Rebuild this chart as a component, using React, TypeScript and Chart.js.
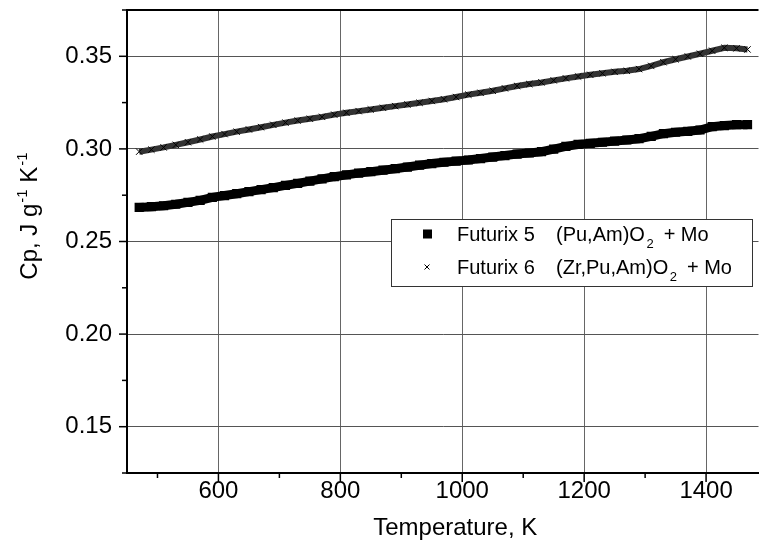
import React, { useEffect, useRef } from "react";
import { Chart, registerables } from "chart.js";

Chart.register(...registerables);

// ---- data ----
const temperatures = [
  470, 490, 510, 530, 550, 570, 590, 610, 630, 650, 670, 690, 710, 730, 750, 770, 790,
  810, 830, 850, 870, 890, 910, 930, 950, 970, 990, 1010, 1030, 1050, 1070, 1090, 1110,
  1130, 1150, 1170, 1190, 1210, 1230, 1250, 1270, 1290, 1310, 1330, 1350, 1370, 1390,
  1410, 1430, 1450, 1468,
];
const futurix5 = [
  0.2684, 0.2688, 0.2693, 0.2701, 0.2711, 0.2722, 0.2738, 0.2748, 0.2758, 0.2769, 0.278,
  0.2791, 0.2803, 0.2814, 0.2826, 0.2838, 0.285, 0.286, 0.2869, 0.2877, 0.2885, 0.2893,
  0.2902, 0.2912, 0.2921, 0.2928, 0.2934, 0.294, 0.2948, 0.2956, 0.2964, 0.2972, 0.2978,
  0.2985, 0.2999, 0.3014, 0.3024, 0.303, 0.3036, 0.3042, 0.3048, 0.3055, 0.3068, 0.3082,
  0.309, 0.3095, 0.3102, 0.312, 0.3126, 0.3131, 0.3131,
];
const futurix6 = [
  0.2985, 0.2996, 0.3008, 0.3022, 0.3036, 0.3051, 0.3067, 0.308, 0.3093, 0.3105, 0.3117,
  0.313, 0.3142, 0.3153, 0.3163, 0.3173, 0.3185, 0.3195, 0.3204, 0.3213, 0.3222, 0.3231,
  0.324, 0.3249, 0.3259, 0.3268, 0.328, 0.3293, 0.3303, 0.3314, 0.3327, 0.334, 0.335,
  0.3359, 0.337, 0.3381, 0.3391, 0.34, 0.3408, 0.3416, 0.3422, 0.3431, 0.3448, 0.3468,
  0.3484, 0.3499, 0.3514, 0.353, 0.3546, 0.3543, 0.3537,
];
const xLabelTicks = [600, 800, 1000, 1200, 1400];
const xMinorTicks = [500, 700, 900, 1100, 1300];
const yLabelTicks = [0.15, 0.2, 0.25, 0.3, 0.35];
const yMinorTicks = [0.125, 0.175, 0.225, 0.275, 0.325, 0.375];
const legendNames = ["Futurix 5", "Futurix 6"];
const legendFormulas = ["(Pu,Am)O", "(Zr,Pu,Am)O"];
const legendSub = "2";
const legendSuffix = "+ Mo";
const xTitle = "Temperature, K";
const yTitleParts: [string, boolean][] = [
  ["Cp, J g", false],
  ["-1", true],
  [" K", false],
  ["-1", true],
];

const X_MIN = 450;
const X_MAX = 1486;
const Y_MIN = 0.125;
const Y_MAX = 0.375;

const FONT = '"Liberation Sans", Arial, Helvetica, sans-serif';

const isIn = (arr: number[], v: number) => arr.some((a) => Math.abs(a - v) < 1e-6);

const decorPlugin = {
  id: "decor",
  afterDraw(chart: any) {
    const ctx: CanvasRenderingContext2D = chart.ctx;
    const xs = chart.scales.x;
    const ys = chart.scales.y;
    const { left, right, top, bottom } = chart.chartArea;
    ctx.save();
    ctx.strokeStyle = "#000";
    // top frame line
    ctx.lineWidth = 2;
    ctx.beginPath();
    ctx.moveTo(left, top);
    ctx.lineTo(right, top);
    ctx.stroke();
    // x ticks
    ctx.lineWidth = 1.5;
    for (const v of [...xLabelTicks, ...xMinorTicks]) {
      const px = xs.getPixelForValue(v);
      const len = isIn(xLabelTicks, v) ? 9 : 5;
      ctx.beginPath();
      ctx.moveTo(px, bottom);
      ctx.lineTo(px, bottom + len);
      ctx.stroke();
    }
    // y ticks
    for (const v of [...yLabelTicks, ...yMinorTicks]) {
      const py = ys.getPixelForValue(v);
      const len = isIn(yLabelTicks, v) ? 8 : 5;
      ctx.beginPath();
      ctx.moveTo(left, py);
      ctx.lineTo(left - len, py);
      ctx.stroke();
    }

    ctx.fillStyle = "#000";
    // x title
    ctx.font = `24px ${FONT}`;
    ctx.textAlign = "center";
    ctx.textBaseline = "alphabetic";
    ctx.fillText(xTitle, (left + right + 25) / 2, 535);

    // y title (rotated, with superscripts)
    const mainFont = `24px ${FONT}`;
    const supFont = `15px ${FONT}`;
    let total = 0;
    const widths: number[] = [];
    for (const [t, sup] of yTitleParts) {
      ctx.font = sup ? supFont : mainFont;
      const w = ctx.measureText(t).width + (sup ? 1 : 0);
      widths.push(w);
      total += w;
    }
    ctx.save();
    ctx.translate(37, 216 + total / 2);
    ctx.rotate(-Math.PI / 2);
    ctx.textAlign = "left";
    let cx = 0;
    yTitleParts.forEach(([t, sup], i) => {
      ctx.font = sup ? supFont : mainFont;
      ctx.fillText(t, cx + (sup ? 1 : 0), sup ? -10 : 0);
      cx += widths[i];
    });
    ctx.restore();

    // legend box
    const bx = 391, by = 219, bw = 361, bh = 67;
    ctx.fillStyle = "#fff";
    ctx.fillRect(bx, by, bw, bh);
    ctx.strokeStyle = "#333";
    ctx.lineWidth = 1;
    ctx.strokeRect(bx + 0.5, by + 0.5, bw, bh);
    ctx.fillStyle = "#000";
    // markers
    ctx.fillRect(423, 229.5, 9, 9);
    ctx.strokeStyle = "#000";
    ctx.lineWidth = 1;
    ctx.beginPath();
    ctx.moveTo(424.5, 264.5);
    ctx.lineTo(429.5, 269.5);
    ctx.moveTo(429.5, 264.5);
    ctx.lineTo(424.5, 269.5);
    ctx.stroke();
    // texts
    const rows = [241, 274];
    legendNames.forEach((name, i) => {
      const base = rows[i];
      ctx.font = `20px ${FONT}`;
      ctx.textAlign = "left";
      ctx.fillText(name, 457, base);
      ctx.fillText(legendFormulas[i], 556, base);
      const fw = ctx.measureText(legendFormulas[i]).width;
      ctx.font = `13px ${FONT}`;
      const sx = 556 + fw + 1.5;
      ctx.fillText(legendSub, sx, base + 7);
      const sw = ctx.measureText(legendSub).width;
      ctx.font = `20px ${FONT}`;
      ctx.fillText(legendSuffix, sx + sw + 10, base);
    });
    ctx.restore();
  },
};

export default function App() {
  const ref = useRef<HTMLCanvasElement | null>(null);
  useEffect(() => {
    if (!ref.current) return;
    const chart = new Chart(ref.current, {
      type: "scatter",
      data: {
        datasets: [
          {
            label: "Futurix 5",
            data: temperatures.map((t, i) => ({ x: t, y: futurix5[i] })),
            showLine: true,
            borderColor: "#000",
            backgroundColor: "#000",
            borderWidth: 9,
            borderCapStyle: "butt",
            pointStyle: "rect",
            pointRadius: 6.5,
            pointBorderWidth: 0,
            pointBackgroundColor: "#000",
          },
          {
            label: "Futurix 6",
            data: temperatures.map((t, i) => ({ x: t, y: futurix6[i] })),
            showLine: true,
            borderColor: "#333",
            borderWidth: 6,
            pointStyle: "crossRot",
            pointRadius: 4.5,
            pointBorderWidth: 1,
            pointBorderColor: "#000",
          },
        ],
      },
      options: {
        animation: false,
        responsive: false,
        devicePixelRatio: 1,
        layout: { padding: { top: 10, left: 0, right: 0, bottom: 0 } },
        plugins: { legend: { display: false }, tooltip: { enabled: false } },
        scales: {
          x: {
            type: "linear",
            min: X_MIN,
            max: X_MAX,
            afterBuildTicks: (s: any) => {
              s.ticks = xLabelTicks.map((v) => ({ value: v }));
            },
            afterFit: (s: any) => {
              s.height = 75;
              s.paddingLeft = 0;
              s.paddingRight = 0;
            },
            border: { display: true, color: "#000", width: 2 },
            grid: { drawTicks: false, color: "#666", lineWidth: 1 },
            ticks: {
              autoSkip: false,
              maxRotation: 0,
              padding: 4,
              color: "#000",
              font: { family: FONT, size: 24 },
              callback: (v: any) => String(v),
            },
          },
          y: {
            type: "linear",
            min: Y_MIN,
            max: Y_MAX,
            afterBuildTicks: (s: any) => {
              s.ticks = yLabelTicks.map((v) => ({ value: v }));
            },
            afterFit: (s: any) => {
              s.width = 127;
              s.paddingTop = 0;
              s.paddingBottom = 0;
            },
            border: { display: true, color: "#000", width: 2 },
            grid: { drawTicks: false, color: "#555", lineWidth: 1 },
            ticks: {
              autoSkip: false,
              padding: 15,
              color: "#000",
              font: { family: FONT, size: 24 },
              callback: (v: any) => Number(v).toFixed(2),
            },
          },
        },
      },
      plugins: [decorPlugin],
    } as any);
    return () => chart.destroy();
  }, []);
  return (
    <canvas
      ref={ref}
      width={765}
      height={548}
      style={{ position: "fixed", left: 0, top: 0, width: 765, height: 548, background: "#fff" }}
    />
  );
}
